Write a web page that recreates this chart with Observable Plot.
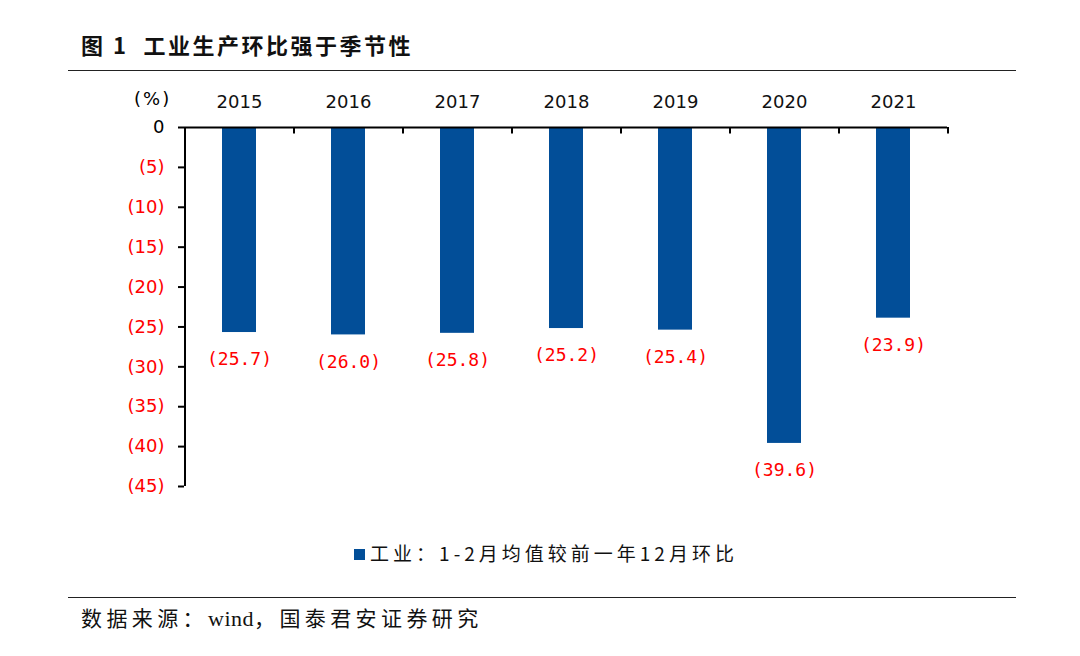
<!DOCTYPE html>
<html>
<head>
<meta charset="utf-8">
<script src="https://cdn.jsdelivr.net/npm/d3@7"></script>
<script src="https://cdn.jsdelivr.net/npm/@observablehq/plot@0.6"></script>
<style>
  html, body { margin: 0; padding: 0; background: #fff; }
  #page { position: relative; width: 1080px; height: 656px; background: #fff; overflow: hidden; font-family: "Noto Sans CJK SC", sans-serif; }
  .title { position: absolute; left: 81px; top: 28px; font-size: 22px; font-weight: bold; color: #111; letter-spacing: 2.5px; white-space: nowrap; }
  .hline { position: absolute; left: 68px; width: 948px; height: 0; border-top: 1.6px solid #222; }
  .unit { position: absolute; left: 134px; top: 88px; font-family: "DejaVu Sans", sans-serif; font-size: 18px; letter-spacing: 2px; color: #000; }
  #chart { position: absolute; left: 0; top: 80px; }
  .legend { position: absolute; left: 0; width: 1092px; top: 539px; text-align: center; font-size: 19px; letter-spacing: 4px; color: #111; white-space: nowrap; }
  .legend .sw { display: inline-block; width: 11px; height: 11px; background: #024e98; margin-right: 5px; vertical-align: 1px; }
  .source { position: absolute; left: 81px; top: 602px; font-family: "Liberation Serif", "Noto Sans CJK SC", serif; font-size: 21px; letter-spacing: 4.4px; color: #111; white-space: nowrap; }
  .source .w { letter-spacing: 0.5px; font-size: 22px; }
</style>
</head>
<body>
<div id="page">
  <div class="title">图 1&nbsp;&nbsp;工业生产环比强于季节性</div>
  <div class="hline" style="top:70px"></div>
  <div class="unit">(%)</div>
  <div id="chart"></div>
  <div class="legend"><span class="sw"></span>工业：1-2月均值较前一年12月环比</div>
  <div class="hline" style="top:597px"></div>
  <div class="source">数据来源：<span class="w">wind</span>，国泰君安证券研究</div>
</div>
<script>
const years = ["2015", "2016", "2017", "2018", "2019", "2020", "2021"];
const values = [-25.7, -26.0, -25.8, -25.2, -25.4, -39.6, -23.9];
const yTicks = [0, -5, -10, -15, -20, -25, -30, -35, -40, -45];

const data = years.map((y, i) => ({year: y, value: values[i]}));
const fmt = v => v === 0 ? "0" : `(${Math.abs(v)})`;

const chart = Plot.plot({
  width: 1080,
  height: 430,
  marginLeft: 184,
  marginRight: 133,
  marginTop: 47,
  marginBottom: 24,
  style: {fontFamily: "DejaVu Sans, sans-serif", fontSize: "17px", background: "transparent", color: "#000"},
  x: {domain: years, paddingInner: 0.69, paddingOuter: 0.345, axis: null},
  y: {domain: [-45, 0], axis: null},
  marks: [
    Plot.barY(data, {x: "year", y: "value", fill: "#024e98"}),
    Plot.text(data, {x: "year", y: "value", text: d => `(${Math.abs(d.value).toFixed(1)})`, dy: 27, fill: "#ff0000", fontSize: 18, fontFamily: "DejaVu Sans Mono, monospace"}),
    Plot.axisX({anchor: "top", tickSize: 0, tickPadding: 20, fontSize: 18, fill: "#111", label: null}),
    Plot.axisY(yTicks, {anchor: "left", tickSize: 6, tickPadding: 14, tickFormat: fmt, fontSize: 18, fill: d => d === 0 ? "#000" : "#ff0000", stroke: "#000", strokeWidth: 2, label: null}),
    Plot.ruleY([0], {stroke: "#000", strokeWidth: 2}),
    Plot.ruleX([years[0]], {x: d => d, dx: -54.5, y1: 0, y2: -45, stroke: "#000", strokeWidth: 2}),
    Plot.ruleX(years, {x: d => d, dx: 54.5, y1: 0, y2: -0.8, stroke: "#000", strokeWidth: 2})
  ]
});
document.getElementById("chart").appendChild(chart);
</script>
</body>
</html>
